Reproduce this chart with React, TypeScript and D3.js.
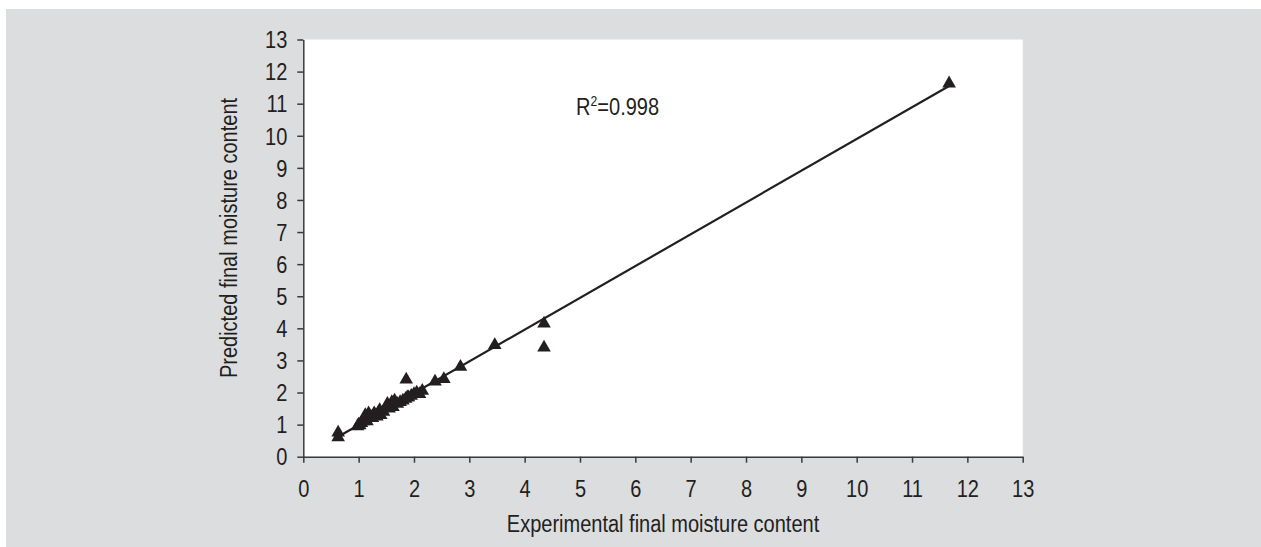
import React, { useEffect, useRef } from "react";
import * as d3 from "d3";

const expX = [0.63, 0.63, 0.98, 1.0, 1.02, 1.05, 1.08, 1.1, 1.12, 1.15, 1.18, 1.2, 1.22, 1.25, 1.28, 1.3, 1.33, 1.35, 1.38, 1.4, 1.45, 1.5, 1.52, 1.55, 1.6, 1.62, 1.65, 1.7, 1.75, 1.8, 1.85, 1.88, 1.9, 1.95, 2.0, 2.05, 2.1, 2.15, 1.86, 2.38, 2.54, 2.84, 3.46, 4.35, 4.35, 11.67];
const predY = [0.75, 0.6, 0.95, 1.0, 0.98, 1.05, 1.1, 1.15, 1.3, 1.1, 1.35, 1.2, 1.25, 1.2, 1.35, 1.3, 1.25, 1.35, 1.45, 1.3, 1.4, 1.55, 1.65, 1.5, 1.7, 1.55, 1.75, 1.65, 1.7, 1.75, 1.8, 1.85, 1.85, 1.9, 1.95, 2.0, 1.95, 2.05, 2.4, 2.34, 2.42, 2.8, 3.48, 4.15, 3.4, 11.63];
const fitSlope = 0.99;
const fitIntercept = 0.0;
const fitRange = [0.63, 11.67];
const xTicks = [0, 1, 2, 3, 4, 5, 6, 7, 8, 9, 10, 11, 12, 13];
const yTicks = [0, 1, 2, 3, 4, 5, 6, 7, 8, 9, 10, 11, 12, 13];
const xTitle = "Experimental final moisture content";
const yTitle = "Predicted final moisture content";
const r2Label = { x: 4.93, y: 10.64, text: "0.998" };

const W = 1261, H = 547;
const FONT = "'Liberation Sans', Arial, Helvetica, sans-serif";
const INK = "#231f20";
const SX = 0.87;

export default function App() {
  const ref = useRef<SVGSVGElement | null>(null);
  useEffect(() => {
    const svg = d3.select(ref.current);
    svg.selectAll("*").remove();
    const left = 303.3, right = 1022.7, top = 39.5, bottom = 456.7;
    const x = d3.scaleLinear().domain([0, 13]).range([left, right]);
    const y = d3.scaleLinear().domain([0, 13]).range([bottom, top]);

    svg.append("rect").attr("x", 6).attr("y", 9).attr("width", W - 6).attr("height", H - 9).attr("fill", "#dcdddf");
    svg.append("rect").attr("x", left).attr("y", top).attr("width", right - left).attr("height", bottom - top).attr("fill", "#ffffff");

    const xa = svg.append("g").attr("transform", `translate(0,${bottom})`)
      .call(d3.axisBottom(x).tickValues(xTicks).tickSize(6).tickSizeOuter(0).tickFormat(d3.format("d")));
    xa.selectAll("text").attr("y", 40).attr("dy", 0).attr("transform", `scale(${SX},1)`);
    const ya = svg.append("g").attr("transform", `translate(${left},0)`)
      .call(d3.axisLeft(y).tickValues(yTicks).tickSize(6).tickSizeOuter(0).tickFormat(d3.format("d")));
    ya.selectAll("text").attr("x", -16 / SX).attr("dy", "0.36em").attr("transform", `scale(${SX},1)`);
    [xa, ya].forEach((g) => {
      g.selectAll("path,line").attr("stroke", "#3a3a3a").attr("stroke-width", 1.5);
      g.selectAll("text").attr("fill", INK).attr("font-size", 23).attr("font-family", FONT);
    });

    // fitted line
    const line = d3.line<number>().x((d) => x(d)).y((d) => y(fitSlope * d + fitIntercept));
    svg.append("path").datum(fitRange).attr("d", line).attr("stroke", INK).attr("stroke-width", 2.2).attr("fill", "none");

    const tri = d3.symbol().type(d3.symbolTriangle).size(80);
    svg.append("g").selectAll("path").data(expX.map((v, i) => [v, predY[i]])).join("path")
      .attr("d", tri).attr("fill", INK)
      .attr("transform", (d) => `translate(${x(d[0])},${y(d[1])})`);

    // R2 label
    const t = svg.append("text").attr("transform", `translate(${x(r2Label.x)},${y(r2Label.y)}) scale(${SX},1)`)
      .attr("font-family", FONT).attr("font-size", 23).attr("fill", INK);
    t.append("tspan").text("R");
    t.append("tspan").attr("font-size", 14).attr("dy", -9).text("2");
    t.append("tspan").attr("dy", 9).text("=" + r2Label.text);

    svg.append("text").attr("transform", `translate(${(left + right) / 2},532) scale(${SX},1)`)
      .attr("text-anchor", "middle").attr("font-family", FONT).attr("font-size", 23).attr("fill", INK).text(xTitle);
    svg.append("text").attr("transform", `translate(237,238) rotate(-90) scale(${SX},1)`)
      .attr("text-anchor", "middle").attr("font-family", FONT).attr("font-size", 23).attr("fill", INK).text(yTitle);
  }, []);
  return (
    <svg ref={ref} width={W} height={H} style={{ position: "fixed", left: 0, top: 0, background: "#ffffff" }} />
  );
}
